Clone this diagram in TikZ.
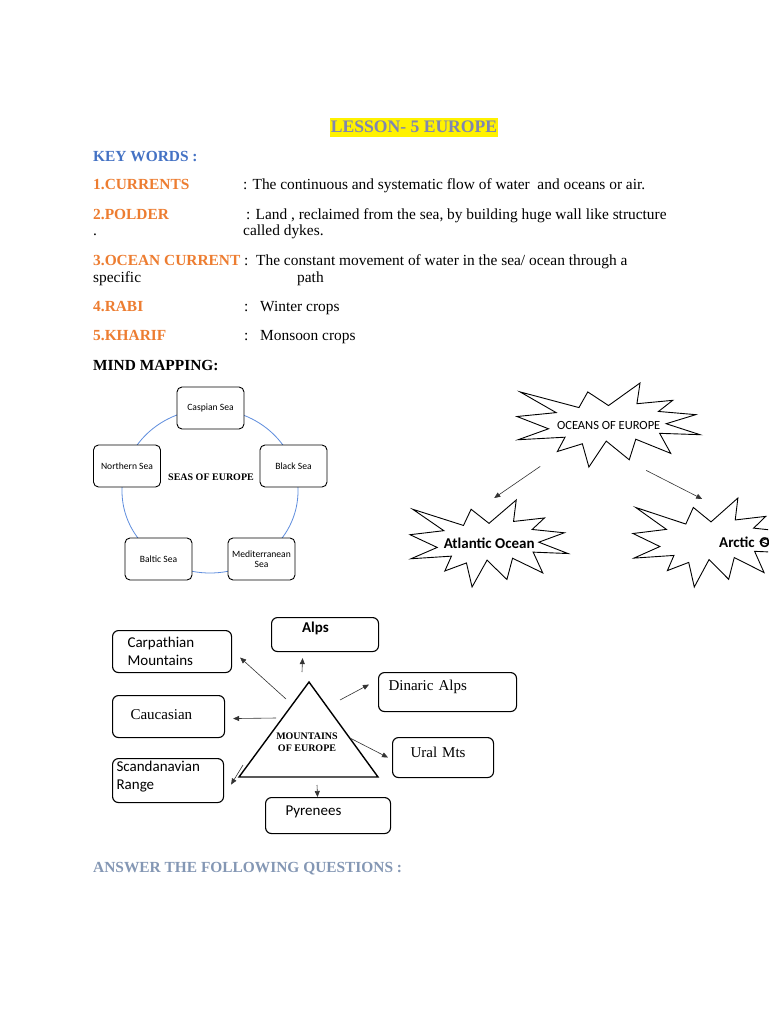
\documentclass[tikz,border=0pt]{standalone}
\usepackage{fontspec}
\setmainfont{Liberation Serif}
\newfontfamily\calib{Carlito}
\usetikzlibrary{arrows.meta, calc, positioning}
\usepackage{xcolor}

\definecolor{keyblue}{RGB}{68,114,196}
\definecolor{keyorange}{RGB}{237,125,49}
\definecolor{titlegray}{RGB}{128,134,176}
\definecolor{askgray}{RGB}{132,151,180}
\definecolor{ringblue}{RGB}{96,142,222}

% explosion outline drawn round a named node: name, width, height
\newcommand{\explosion}[3]{%
  \draw[burstline, shift={(#1.north west)}, xscale=#2/21.6, yscale=#3/21.6]
    (10.8,5.8) -- (14.522,0) -- (14.155,5.325) -- (18.38,4.457) -- (16.702,7.315)
    -- (21.097,8.137) -- (17.607,10.475) -- (21.6,13.29) -- (16.837,12.942)
    -- (18.145,18.095) -- (14.02,14.457) -- (13.247,19.737) -- (10.532,14.935)
    -- (8.485,21.6) -- (7.715,15.627) -- (4.762,17.617) -- (5.667,13.937)
    -- (0.135,14.587) -- (3.722,11.775) -- (0,8.615) -- (4.627,7.617)
    -- (0.37,2.295) -- (7.312,6.32) -- (8.352,2.295) -- cycle;}

\begin{document}
\begin{tikzpicture}[
    x=1pt, y=-1pt,
    body/.style={anchor=base west, inner sep=0, font=\fontsize{15.4}{18}\selectfont},
    keyword/.style={body, font=\fontsize{15.4}{18}\selectfont\bfseries, text=keyorange},
    seabox/.style={draw, rounded corners=5pt, line width=0.9pt, fill=white, minimum width=67pt, minimum height=42pt, align=center, inner sep=1pt, font=\calib\fontsize{9.6}{9.8}\selectfont},
    mtnbox/.style={draw, rounded corners=6pt, line width=1.1pt, anchor=north west, inner ysep=0pt, align=left, font=\calib\fontsize{15}{18}\selectfont},
    serifbox/.style={mtnbox, font=\fontsize{15}{18}\selectfont},
    burst/.style={rectangle, anchor=north west, inner sep=0pt, font=\calib\bfseries\fontsize{15}{18}\selectfont},
    burstline/.style={line width=0.9pt, line join=miter},
    arrow/.style={-{Triangle[length=6pt,width=5pt]}, line width=0.6pt, black!80}
]
\useasboundingbox (0,0) rectangle (768,1024);
\clip (0,0) rectangle (768,1024);
\fill[white] (0,0) rectangle (768,1024);

% Title and key words
\node[anchor=base, fill=yellow, inner xsep=1pt, inner ysep=0pt, text height=15pt, text depth=4pt, text=titlegray, font=\fontsize{17.6}{20}\selectfont\bfseries] (title) at (414,133) {LESSON- 5 EUROPE};
\node[body, font=\fontsize{15.4}{18}\selectfont\bfseries, text=keyblue] (keywords) at (93,162) {KEY WORDS :};

\node[keyword] (currents) at (93,190) {1.CURRENTS};
\node[body] (currentsdef) at (243,190) {: The continuous and systematic flow of water\ \ and oceans or air.};

\node[keyword] (polder) at (93,219) {2.POLDER};
\node[body] (polderdef) at (246,219) {: Land , reclaimed from the sea, by building huge wall like structure};
\node[body] (polderdot) at (93,236) {.};
\node[body] (polderdefb) at (243,236) {called dykes.};

\node[keyword] (oceancur) at (93,265) {3.OCEAN CURRENT};
\node[body] (oceancurdef) at (244,265) {:\ \ The constant movement of water in the sea/ ocean through a};
\node[body] (oceancurdefb) at (93,282) {specific};
\node[body] (oceancurdefc) at (297,282) {path};

\node[keyword] (rabi) at (93,311) {4.RABI};
\node[body] (rabicolon) at (244,311) {:};
\node[body] (rabidef) at (260,311) {Winter crops};

\node[keyword] (kharif) at (93,340) {5.KHARIF};
\node[body] (kharifcolon) at (244,340) {:};
\node[body] (kharifdef) at (260,340) {Monsoon crops};

\node[body, font=\fontsize{15.4}{18}\selectfont\bfseries] (mindmap) at (93,370) {MIND MAPPING:};

% Seas of Europe
\draw[ringblue, line width=0.8pt] (210,491) ellipse [x radius=88, y radius=82];
\node[seabox] (caspian) at (210.5,408) {Caspian Sea};
\node[seabox] (northern) at (127,466) {Northern Sea};
\node[seabox] (blacksea) at (293.5,466) {Black Sea};
\node[seabox] (baltic) at (158.5,559) {Baltic Sea};
\node[seabox] (mediterranean) at (261.5,559) {Mediterranean\\Sea};
\node[font=\fontsize{10}{12}\selectfont\bfseries, inner sep=0pt] (seas) at (211,477) {SEAS OF EUROPE};

% Oceans of Europe
\node[burst, minimum width=183pt, minimum height=84pt, font=\calib\fontsize{12.5}{14}\selectfont] (oceans) at (517,383) {OCEANS OF EUROPE};
\explosion{oceans}{183}{84}
\node[burst, minimum width=158pt, minimum height=87pt] (atlantic) at (410,500) {Atlantic Ocean};
\explosion{atlantic}{158}{87}
\node[burst, minimum width=156pt, minimum height=89pt, text width=156pt, align=left] (arctic) at (633,498) {\hspace*{86pt}\rlap{Arctic Ocean}};
\explosion{arctic}{156}{89}

\draw[arrow] ($(oceans.south)+(-68.5,-1)$) -- ($(atlantic.north)+(5,-2)$);
\draw[arrow] ($(oceans.south)+(37.5,3)$) -- ($(arctic.north)+(-9,1)$);

% Mountains of Europe
\draw[line width=1.4pt, line join=miter] (309,682) -- (239,777) -- (378,777) -- cycle;
\node[font=\fontsize{10}{12}\selectfont\bfseries, align=center, inner sep=0pt] (mountains) at (307,742) {MOUNTAINS\\OF EUROPE};

\node[mtnbox, font=\calib\bfseries\fontsize{15}{18}\selectfont, inner xsep=30.5pt, text width=46pt, text height=15pt, text depth=19pt] (alps) at (271,617) {Alps};
\node[mtnbox, inner xsep=15pt, text width=89pt, text height=17pt, text depth=25pt] (carpathian) at (112,630) {Carpathian\\Mountains};
\node[serifbox, inner xsep=10pt, text width=118pt, text height=18pt, text depth=21pt] (dinaric) at (378,672) {Dinaric Alps};
\node[serifbox, inner xsep=18pt, text width=76pt, text height=23.5pt, text depth=18.5pt] (caucasian) at (112,695) {Caucasian};
\node[serifbox, inner xsep=18pt, text width=65pt, text height=19.5pt, text depth=20.5pt] (ural) at (392,737) {Ural Mts};
\node[mtnbox, inner xsep=4pt, text width=103pt, text height=12.5pt, text depth=31.5pt] (scandinavian) at (112,758) {Scandanavian\\Range};
\node[mtnbox, inner xsep=20pt, text width=85pt, text height=18pt, text depth=18pt] (pyrenees) at (265,797) {Pyrenees};

\draw[arrow] ($(mountains)+(-5,-70)$) -- ($(alps.south)+(-22.5,6)$);
\draw[arrow] ($(mountains)+(-21,-43)$) -- ($(carpathian.east)+(8,6)$);
\draw[arrow] ($(mountains)+(33,-42)$) -- ($(dinaric.west)+(-9,-7.5)$);
\draw[arrow] ($(mountains)+(-31,-24)$) -- ($(caucasian.east)+(8,2)$);
\draw[arrow] ($(mountains)+(43,-4)$) -- ($(ural.west)+(-4,0)$);
\draw[arrow] ($(mountains)+(-64,23)$) -- ($(scandinavian.east)+(7,4)$);
\draw[arrow] ($(mountains)+(10,43)$) -- ($(pyrenees.north)+(-10.5,0)$);

% Questions
\node[body, font=\fontsize{15.4}{18}\selectfont\bfseries, text=askgray] (questions) at (93,872) {ANSWER THE FOLLOWING QUESTIONS :};
\end{tikzpicture}
\end{document}
